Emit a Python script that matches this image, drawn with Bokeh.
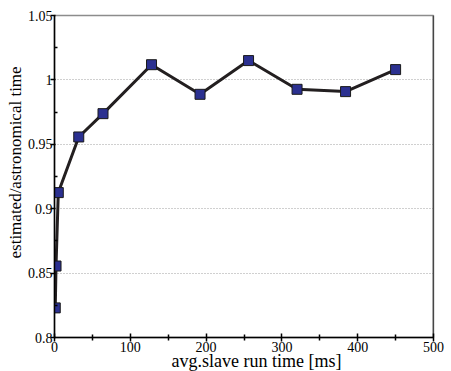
from bokeh.plotting import figure
from bokeh.models import FixedTicker, CustomJSTickFormatter, Span, ColumnDataSource, Title
from bokeh.embed import file_html
from bokeh.resources import INLINE

# data
run_time = [1, 2, 5, 32, 64, 128, 192, 256, 320, 384, 450]
ratio = [0.823, 0.8555, 0.9125, 0.9557, 0.9738, 1.0118, 0.9888, 1.0150, 0.9927, 0.9909, 1.0080]

x_ticks = [0, 100, 200, 300, 400, 500]
x_minor = [50, 150, 250, 350, 450]
y_ticks = [0.8, 0.85, 0.9, 0.95, 1.0, 1.05]
y_minor = [0.825, 0.875, 0.925, 0.975, 1.025]
x_title = "avg.slave run time [ms]"
y_title = "estimated/astronomical time"

FONT = "Liberation Serif"

p = figure(width=451, height=371, output_backend="svg", toolbar_location=None,
           x_range=(0, 500), y_range=(0.8, 1.05),
           min_border_left=54, min_border_right=18, min_border_top=15, min_border_bottom=34)
p.background_fill_color = "white"
p.border_fill_color = "white"
p.outline_line_color = "#8c8c8c"
p.outline_line_width = 1.5

src = ColumnDataSource(dict(x=run_time, y=ratio))
p.line("x", "y", source=src, line_color="#231f20", line_width=3)
p.scatter("x", "y", source=src, marker="square", size=10, fill_color="#2b3090",
          line_color="#1a1a1a", line_width=1)

p.add_layout(Span(location=500, dimension="height", line_color="black", line_width=1.5))

p.xgrid.grid_line_color = None
p.ygrid.grid_line_color = "#a0a0a0"
p.ygrid.grid_line_dash = "1 2"
p.ygrid.grid_line_width = 1

p.xaxis.ticker = FixedTicker(ticks=x_ticks, minor_ticks=x_minor)
p.yaxis.ticker = FixedTicker(ticks=y_ticks, minor_ticks=y_minor)
p.yaxis.formatter = CustomJSTickFormatter(code="""
let s = tick.toFixed(2);
s = s.replace(/0+$/, '').replace(/\\.$/, '');
return s;
""")

for ax in (p.xaxis[0], p.yaxis[0]):
    ax.axis_line_color = "black"
    ax.axis_line_width = 1.5
    ax.major_tick_line_color = "black"
    ax.minor_tick_line_color = "black"
    ax.major_tick_line_width = 1.5
    ax.minor_tick_line_width = 1.5
    ax.major_label_text_font = FONT
    ax.major_label_text_font_size = "14px"
    ax.major_label_text_color = "black"

p.xaxis.major_tick_in = 4
p.xaxis.major_tick_out = 4
p.xaxis.minor_tick_in = 3
p.xaxis.minor_tick_out = 3
p.xaxis.major_label_standoff = 0

p.yaxis.major_tick_in = 1
p.yaxis.major_tick_out = 4
p.yaxis.minor_tick_in = 3
p.yaxis.minor_tick_out = 0
p.yaxis.major_label_standoff = -2

p.add_layout(Title(text=y_title, align="left", offset=79, standoff=0,
                   text_font=FONT, text_font_size="17px", text_font_style="normal",
                   text_color="black"), "left")
p.add_layout(Title(text=x_title, align="left", offset=117, standoff=-11,
                   text_font=FONT, text_font_size="18px", text_font_style="normal",
                   text_color="black"), "below")

open("out.html", "w").write(file_html(p, INLINE))
